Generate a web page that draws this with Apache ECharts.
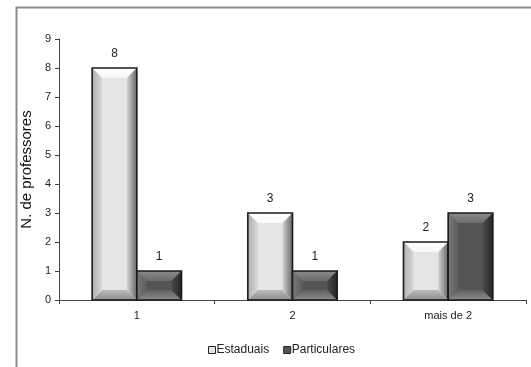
<!DOCTYPE html>
<html>
<head>
<meta charset="utf-8">
<script src="https://cdn.jsdelivr.net/npm/echarts@6/dist/echarts.min.js"></script>
<style>
  html, body { margin: 0; padding: 0; background: #fff; }
  #chart { width: 531px; height: 367px; }
</style>
</head>
<body>
<div id="chart"></div>
<script>
// Number of teachers by how many schools they work at
const categories = ['1', '2', 'mais de 2'];
const estaduais = [8, 3, 2];
const particulares = [1, 1, 3];
const seriesNames = ['Estaduais', 'Particulares'];
const yTicks = [0, 9, 1]; // min, max, interval

// Shading palettes for the bevelled bars
const palettes = [
  { face: '#e4e6e6', top: ['#ffffff', '#f7f7f7'], bottom: ['#bcbcbc', '#8c8c8c'],
    left: ['#b0b0b0', '#d8d8d8'], right: ['#d4d4d4', '#666666'] },
  { face: '#555555', top: ['#8a8a8a', '#6c6c6c'], bottom: ['#606060', '#8a8a8a'],
    left: ['#7a7a7a', '#5c5c5c'], right: ['#4a4a4a', '#262626'] }
];

function lg(x2, y2, c) {
  return { type: 'linear', x: 0, y: 0, x2: x2, y2: y2, global: false,
           colorStops: [{ offset: 0, color: c[0] }, { offset: 1, color: c[1] }] };
}

// Each bar is a face rectangle framed by four shaded bevel facets
function makeRender(sid) {
  return function (params, api) {
    const cat = api.value(0), val = api.value(1);
    const base = api.coord([cat, 0]);
    const top = api.coord([cat, val]);
    const band = api.size([1, 0])[0];
    const w = band * 0.287;
    const x0 = sid === 0 ? base[0] - w : base[0];
    const x1 = x0 + w;
    const y0 = top[1], y1 = base[1];
    const b = Math.min(10, (x1 - x0) / 2, (y1 - y0) / 2.6);
    const p = palettes[sid];
    const poly = (pts, fill) => ({ type: 'polygon', shape: { points: pts }, style: { fill: fill, stroke: 'none' } });
    return {
      type: 'group',
      children: [
        { type: 'rect', shape: { x: x0, y: y0, width: w, height: y1 - y0 }, style: { fill: p.face, stroke: 'none' } },
        poly([[x0, y0], [x1, y0], [x1 - b, y0 + b], [x0 + b, y0 + b]], lg(0, 1, p.top)),
        poly([[x0, y1], [x1, y1], [x1 - b, y1 - b], [x0 + b, y1 - b]], lg(0, 1, p.bottom)),
        poly([[x0, y0], [x0 + b, y0 + b], [x0 + b, y1 - b], [x0, y1]], lg(1, 0, p.left)),
        poly([[x1, y0], [x1 - b, y0 + b], [x1 - b, y1 - b], [x1, y1]], lg(1, 0, p.right)),
        { type: 'rect', shape: { x: x0, y: y0, width: w, height: y1 - y0 },
          style: { fill: 'none', stroke: '#1a1a1a', lineWidth: 1.6 } },
        { type: 'text', x: (x0 + x1) / 2, y: y0 - 8,
          style: { text: String(val), fill: '#222', font: '12px "Liberation Sans", Arial, sans-serif',
                   align: 'center', verticalAlign: 'bottom' } }
      ]
    };
  };
}

const seriesData = [estaduais, particulares];

const chart = echarts.init(document.getElementById('chart'), null, { renderer: 'canvas' });
chart.setOption({
  animation: false,
  backgroundColor: '#fff',
  textStyle: { fontFamily: '"Liberation Sans", Arial, sans-serif' },
  graphic: [
    { type: 'rect', left: 14, top: 5, shape: { width: 700, height: 500 },
      style: { fill: 'none', stroke: '#8a8a8a', lineWidth: 2 }, silent: true, z: -1 }
  ],
  grid: { left: 59, top: 39, right: 5, bottom: 67, containLabel: false },
  legend: {
    bottom: 6, left: 203, icon: 'rect', itemWidth: 7, itemHeight: 7, itemGap: 14,
    textStyle: { fontSize: 12, color: '#222', padding: [0, 0, 0, -4] },
    data: seriesNames.map((n, i) => ({
      name: n,
      itemStyle: { color: palettes[i].face, borderColor: '#222', borderWidth: 1 }
    }))
  },
  xAxis: {
    type: 'category', data: categories,
    axisLine: { lineStyle: { color: '#444', width: 1 } },
    axisTick: { show: true, length: 4, interval: 0, lineStyle: { color: '#444' } },
    axisLabel: { color: '#222', fontSize: 11, margin: 10 },
    splitLine: { show: false }
  },
  yAxis: {
    type: 'value', min: yTicks[0], max: yTicks[1], interval: yTicks[2],
    name: 'N. de professores', nameLocation: 'middle', nameGap: 17, nameRotate: 90,
    nameTextStyle: { fontSize: 15, color: '#111' },
    axisLine: { show: true, lineStyle: { color: '#444', width: 1 } },
    axisTick: { show: true, length: 4, lineStyle: { color: '#444' } },
    axisLabel: { color: '#222', fontSize: 11, margin: 8 },
    splitLine: { show: false }
  },
  series: seriesNames.map((n, sid) => ({
    type: 'custom', name: n,
    itemStyle: { color: palettes[sid].face, borderColor: '#222' },
    encode: { x: 0, y: 1 },
    data: seriesData[sid].map((v, i) => [i, v]),
    renderItem: makeRender(sid)
  }))
});
</script>
</body>
</html>
